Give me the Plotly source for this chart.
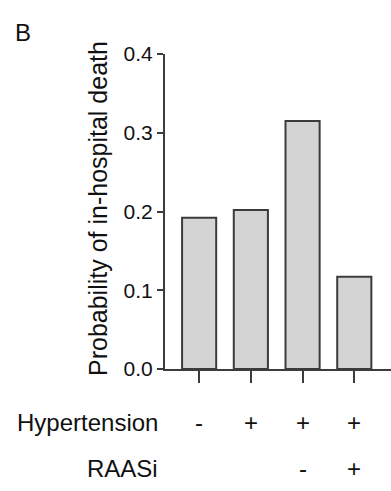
import plotly.graph_objects as go

categories = ["g1", "g2", "g3", "g4"]
values = [0.192, 0.202, 0.315, 0.117]
hypertension = ["-", "+", "+", "+"]
raasi = ["", "", "-", "+"]
y_ticks = [0.0, 0.1, 0.2, 0.3, 0.4]
y_ticklabels = ["0.0", "0.1", "0.2", "0.3", "0.4"]

FONT = "Arial, Liberation Sans, sans-serif"
LINE = "#3c3c3c"
TXT = "#111111"
L, T, W, H = 165, 54, 226, 315  # plot area in pixels


def px(xp):
    return (xp - L) / W


def py(yp):
    return (T + H - yp) / H


fig = go.Figure()
fig.add_trace(go.Bar(
    x=list(range(len(categories))), y=values,
    marker=dict(color="#d4d4d4", line=dict(color=LINE, width=2)),
    width=0.66,
))

annotations = []
for i, s in enumerate(hypertension):
    annotations.append(dict(x=i, y=py(422), xref="x", yref="paper", text=s,
                            showarrow=False, xanchor="center", yanchor="middle",
                            font=dict(family=FONT, size=24, color=TXT)))
for i, s in enumerate(raasi):
    if s:
        annotations.append(dict(x=i, y=py(468), xref="x", yref="paper", text=s,
                                showarrow=False, xanchor="center", yanchor="middle",
                                font=dict(family=FONT, size=24, color=TXT)))
annotations.append(dict(x=px(160), y=py(422), xref="paper", yref="paper", text="Hypertension",
                        showarrow=False, xanchor="right", yanchor="middle",
                        font=dict(family=FONT, size=24, color=TXT)))
annotations.append(dict(x=px(160), y=py(468), xref="paper", yref="paper", text="RAASi",
                        showarrow=False, xanchor="right", yanchor="middle",
                        font=dict(family=FONT, size=24, color=TXT)))
annotations.append(dict(x=px(98), y=py(209), xref="paper", yref="paper",
                        text="Probability of in-hospital death", textangle=-90,
                        showarrow=False, xanchor="center", yanchor="middle",
                        font=dict(family=FONT, size=25, color=TXT)))
annotations.append(dict(x=px(13), y=py(32), xref="paper", yref="paper", text="B",
                        showarrow=False, xanchor="left", yanchor="middle",
                        font=dict(family=FONT, size=24, color=TXT)))

fig.update_layout(
    width=391, height=491,
    margin=dict(l=L, r=391 - L - W, t=T, b=491 - T - H, autoexpand=False),
    plot_bgcolor="white", paper_bgcolor="white",
    showlegend=False,
    font=dict(family=FONT, size=21, color=TXT),
    annotations=annotations,
    xaxis=dict(range=[-0.66, 3.71], tickvals=list(range(len(categories))),
               ticktext=["" for _ in categories], ticks="outside", ticklen=12,
               tickwidth=2, tickcolor=LINE, showline=True, linecolor=LINE,
               linewidth=2, showgrid=False, zeroline=False, automargin=False),
    yaxis=dict(range=[0, 0.4], tickvals=y_ticks, ticktext=y_ticklabels,
               ticks="outside", ticklen=6, tickwidth=2, tickcolor=LINE,
               showline=True, linecolor=LINE, linewidth=2, showgrid=False,
               zeroline=False, automargin=False,
               tickfont=dict(family=FONT, size=21, color=TXT)),
)

fig.write_html("out.html", config={"displayModeBar": False},
               post_script="document.body.style.margin='0';")
